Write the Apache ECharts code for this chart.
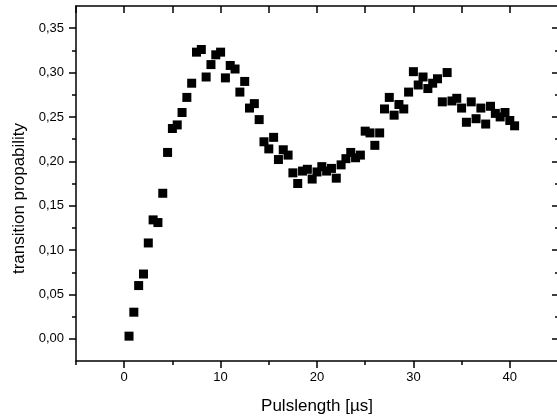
<!DOCTYPE html>
<html>
<head>
<meta charset="utf-8">
<script src="https://cdn.jsdelivr.net/npm/echarts@6/dist/echarts.min.js"></script>
<style>
  html, body { margin: 0; padding: 0; background: #fff; }
  #root { width: 557px; height: 417px; }
</style>
</head>
<body>
<div id="root"></div>
<script>
// pulse length in µs
const pulseLength = [
  0.5, 1, 1.5, 2, 2.5, 3, 3.5, 4, 4.5, 5,
  5.5, 6, 6.5, 7, 7.5, 8, 8.5, 9, 9.5, 10,
  10.5, 11, 11.5, 12, 12.5, 13, 13.5, 14, 14.5, 15,
  15.5, 16, 16.5, 17, 17.5, 18, 18.5, 19, 19.5, 20,
  20.5, 21, 21.5, 22, 22.5, 23, 23.5, 24, 24.5, 25,
  25.5, 26, 26.5, 27, 27.5, 28, 28.5, 29, 29.5, 30,
  30.5, 31, 31.5, 32, 32.5, 33, 33.5, 34, 34.5, 35,
  35.5, 36, 36.5, 37, 37.5, 38, 38.5, 39, 39.5, 40,
  40.5
];
const transitionProb = [
  0.003, 0.030, 0.060, 0.073, 0.108, 0.134, 0.131, 0.164, 0.210, 0.237,
  0.241, 0.255, 0.272, 0.288, 0.323, 0.326, 0.295, 0.309, 0.320, 0.323,
  0.294, 0.308, 0.304, 0.278, 0.290, 0.260, 0.265, 0.247, 0.222, 0.214,
  0.227, 0.202, 0.213, 0.207, 0.187, 0.175, 0.189, 0.191, 0.180, 0.188,
  0.194, 0.189, 0.192, 0.181, 0.196, 0.203, 0.210, 0.204, 0.207, 0.234,
  0.232, 0.218, 0.232, 0.259, 0.272, 0.252, 0.264, 0.259, 0.278, 0.301,
  0.286, 0.295, 0.282, 0.288, 0.293, 0.267, 0.300, 0.268, 0.271, 0.260,
  0.244, 0.267, 0.248, 0.260, 0.242, 0.262, 0.254, 0.250, 0.255, 0.246,
  0.240
];

const xMajorTicks = [0, 10, 20, 30, 40];
const xMinorTicks = [-5, 5, 15, 25, 35];
const yMajorTicks = [0, 0.05, 0.1, 0.15, 0.2, 0.25, 0.3, 0.35];
const yMinorTicks = [0.025, 0.075, 0.125, 0.175, 0.225, 0.275, 0.325];

const FONT = '"Liberation Sans", Arial, sans-serif';
const axisColor = '#000';
const lineStyle = { color: axisColor, width: 1.5 };

const chart = echarts.init(document.getElementById('root'), null, { renderer: 'canvas' });

const hidden = { show: false };

const option = {
  animation: false,
  backgroundColor: '#fff',
  textStyle: { fontFamily: FONT },
  grid: { left: 76, right: -1, top: 6, bottom: 56, containLabel: false, outerBoundsMode: 'none' },
  xAxis: [
    {
      type: 'value', position: 'bottom', min: -5, max: 45,
      name: 'Pulslength [µs]', nameLocation: 'middle', nameGap: 37,
      nameTextStyle: { fontSize: 17, color: axisColor, fontFamily: FONT },
      axisLine: { show: true, onZero: false, lineStyle },
      axisTick: { show: true, customValues: xMajorTicks, length: 7, lineStyle },
      axisLabel: {
        customValues: xMajorTicks, margin: 10, fontSize: 13,
        color: axisColor, fontFamily: FONT
      },
      splitLine: hidden
    },
    {
      type: 'value', position: 'bottom', min: -5, max: 45,
      axisLine: { show: false, onZero: false },
      axisTick: { show: true, customValues: xMinorTicks, length: 4, lineStyle },
      axisLabel: hidden, splitLine: hidden
    },
    {
      type: 'value', position: 'top', min: -5, max: 45, interval: 5,
      axisLine: { show: true, onZero: false, lineStyle },
      axisTick: { show: true, inside: true, length: 7, lineStyle },
      axisLabel: hidden, splitLine: hidden
    }
  ],
  yAxis: [
    {
      type: 'value', position: 'left', min: -0.025, max: 0.375,
      name: 'transition propability', nameLocation: 'middle', nameGap: 47,
      nameTextStyle: { fontSize: 17, color: axisColor, fontFamily: FONT, padding: [0, 30, 0, 0] },
      axisLine: { show: true, onZero: false, lineStyle },
      axisTick: { show: true, customValues: yMajorTicks, length: 7, lineStyle },
      axisLabel: {
        customValues: yMajorTicks, margin: 12, fontSize: 13,
        color: axisColor, fontFamily: FONT,
        formatter: (v) => v.toFixed(2).replace('.', ',')
      },
      splitLine: hidden
    },
    {
      type: 'value', position: 'left', min: -0.025, max: 0.375,
      axisLine: { show: false, onZero: false },
      axisTick: { show: true, customValues: yMinorTicks, length: 4, lineStyle },
      axisLabel: hidden, splitLine: hidden
    },
    {
      type: 'value', position: 'right', min: -0.025, max: 0.375,
      axisLine: { show: true, onZero: false, lineStyle },
      axisTick: { show: true, inside: true, customValues: yMajorTicks, length: 6, lineStyle },
      axisLabel: hidden, splitLine: hidden
    },
    {
      type: 'value', position: 'right', min: -0.025, max: 0.375,
      axisLine: { show: false, onZero: false },
      axisTick: { show: true, inside: true, customValues: yMinorTicks, length: 3, lineStyle },
      axisLabel: hidden, splitLine: hidden
    }
  ],
  series: [
    {
      type: 'scatter',
      xAxisIndex: 0,
      yAxisIndex: 0,
      symbol: 'rect',
      symbolSize: 9,
      itemStyle: { color: '#000', opacity: 1 },
      data: pulseLength.map((x, i) => [x, transitionProb[i]])
    }
  ]
};

chart.setOption(option);
</script>
</body>
</html>
